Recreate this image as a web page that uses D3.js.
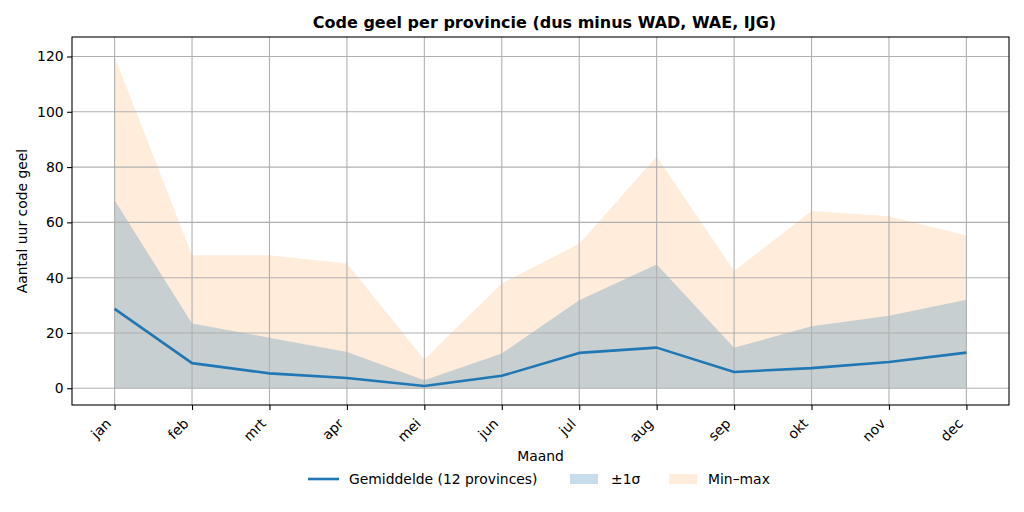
<!DOCTYPE html>
<html>
<head>
<meta charset="utf-8">
<script src="https://cdn.jsdelivr.net/npm/d3@7"></script>
<style>
  body { margin: 0; background: #fff; }
  text { font-family: "DejaVu Sans", sans-serif; fill: #000; }
</style>
</head>
<body>
<div id="chart"></div>
<script>
const months = ["jan", "feb", "mrt", "apr", "mei", "jun", "jul", "aug", "sep", "okt", "nov", "dec"];
const meanHours = [28.7, 9.1, 5.4, 3.7, 0.85, 4.5, 12.8, 14.7, 5.9, 7.3, 9.5, 12.9];
const sigmaLow = [0, 0, 0, 0, 0, 0, 0, 0, 0, 0, 0, 0];
const sigmaHigh = [68, 23.4, 18.3, 13.1, 2.9, 12.6, 31.8, 44.8, 14.7, 22.4, 26.2, 32];
const minHours = [0, 0, 0, 0, 0, 0, 0, 0, 0, 0, 0, 0];
const maxHours = [120, 48.1, 48.1, 45.1, 10.4, 37.9, 52.3, 83.8, 42.4, 64.1, 62.2, 55.3];
const yTicks = [0, 20, 40, 60, 80, 100, 120];

const W = 1024, H = 512;
const margin = { top: 37, right: 15, bottom: 107, left: 72 },
      width = W - margin.left - margin.right,
      height = H - margin.top - margin.bottom;

const rows = months.map((m, i) => ({
    m, i,
    mean: meanHours[i],
    sLo: sigmaLow[i], sHi: sigmaHigh[i],
    lo: minHours[i], hi: maxHours[i]
}));

const root = d3.select("#chart").append("svg")
    .attr("width", W).attr("height", H);

const svg = root.append("g")
    .attr("transform", `translate(${margin.left},${margin.top})`);

const x = d3.scaleLinear()
    .domain([-0.55, months.length - 1 + 0.55])
    .range([0, width]);

const y = d3.scaleLinear()
    .domain([-6.05, 127.05])
    .range([height, 0]);

const area = (lo, hi) => d3.area()
    .x(d => x(d.i))
    .y0(d => y(d[lo]))
    .y1(d => y(d[hi]));

// Bands
svg.append("path").datum(rows)
    .attr("fill", "#ff7f0e").attr("fill-opacity", 0.15)
    .attr("d", area("lo", "hi"));

svg.append("path").datum(rows)
    .attr("fill", "#1f77b4").attr("fill-opacity", 0.25)
    .attr("d", area("sLo", "sHi"));

// Grid
svg.append("g").selectAll("line").data(yTicks).join("line")
    .attr("x1", 0).attr("x2", width)
    .attr("y1", d => y(d)).attr("y2", d => y(d))
    .attr("stroke", "#b0b0b0").attr("stroke-width", 1.1);

svg.append("g").selectAll("line").data(months).join("line")
    .attr("x1", (d, i) => x(i)).attr("x2", (d, i) => x(i))
    .attr("y1", 0).attr("y2", height)
    .attr("stroke", "#b0b0b0").attr("stroke-width", 1.1);

// Mean line
svg.append("path").datum(rows)
    .attr("fill", "none")
    .attr("stroke", "#1f77b4")
    .attr("stroke-width", 2.6)
    .attr("stroke-linejoin", "round")
    .attr("d", d3.line().x(d => x(d.i)).y(d => y(d.mean)));

// Axes
const xAxis = svg.append("g")
    .attr("transform", `translate(0,${height})`)
    .call(d3.axisBottom(x).tickValues(d3.range(months.length))
        .tickFormat(i => months[i]).tickSize(4.9).tickPadding(3.5));
xAxis.selectAll("text")
    .style("font-size", "13.9px")
    .attr("text-anchor", "end")
    .attr("dy", "0.35em")
    .attr("x", 0).attr("y", 0)
    .attr("transform", "translate(-6.5,16) rotate(-45)");

const yAxis = svg.append("g")
    .call(d3.axisLeft(y).tickValues(yTicks).tickSize(4.9).tickPadding(3.5));
yAxis.selectAll("text").style("font-size", "13.9px");

svg.selectAll(".domain").remove();
svg.selectAll(".tick line").attr("stroke", "#000").attr("stroke-width", 1.1);

// Frame
svg.append("rect")
    .attr("width", width).attr("height", height)
    .attr("fill", "none").attr("stroke", "#000").attr("stroke-width", 1.1);

// Titles
root.append("text")
    .attr("x", margin.left + width / 2 + 4).attr("y", 28)
    .attr("text-anchor", "middle")
    .style("font-size", "16px").style("font-weight", "bold")
    .text("Code geel per provincie (dus minus WAD, WAE, IJG)");

root.append("text")
    .attr("x", margin.left + width / 2).attr("y", 461)
    .attr("text-anchor", "middle")
    .style("font-size", "13.9px")
    .text("Maand");

root.append("text")
    .attr("transform", `translate(27,${margin.top + height / 2}) rotate(-90)`)
    .attr("text-anchor", "middle")
    .style("font-size", "13.9px")
    .text("Aantal uur code geel");

// Legend
const legend = root.append("g").attr("transform", "translate(0,479)");
legend.append("line")
    .attr("x1", 308).attr("x2", 339).attr("y1", 0).attr("y2", 0)
    .attr("stroke", "#1f77b4").attr("stroke-width", 2.6);
legend.append("text").attr("x", 349).attr("y", 5).style("font-size", "13.9px")
    .text("Gemiddelde (12 provinces)");
legend.append("rect").attr("x", 570).attr("y", -5).attr("width", 28).attr("height", 10)
    .attr("fill", "#1f77b4").attr("fill-opacity", 0.25);
legend.append("text").attr("x", 611).attr("y", 5).style("font-size", "13.9px")
    .text("±1σ");
legend.append("rect").attr("x", 669).attr("y", -5).attr("width", 28).attr("height", 10)
    .attr("fill", "#ff7f0e").attr("fill-opacity", 0.15);
legend.append("text").attr("x", 708).attr("y", 5).style("font-size", "13.9px")
    .text("Min–max");
</script>
</body>
</html>
